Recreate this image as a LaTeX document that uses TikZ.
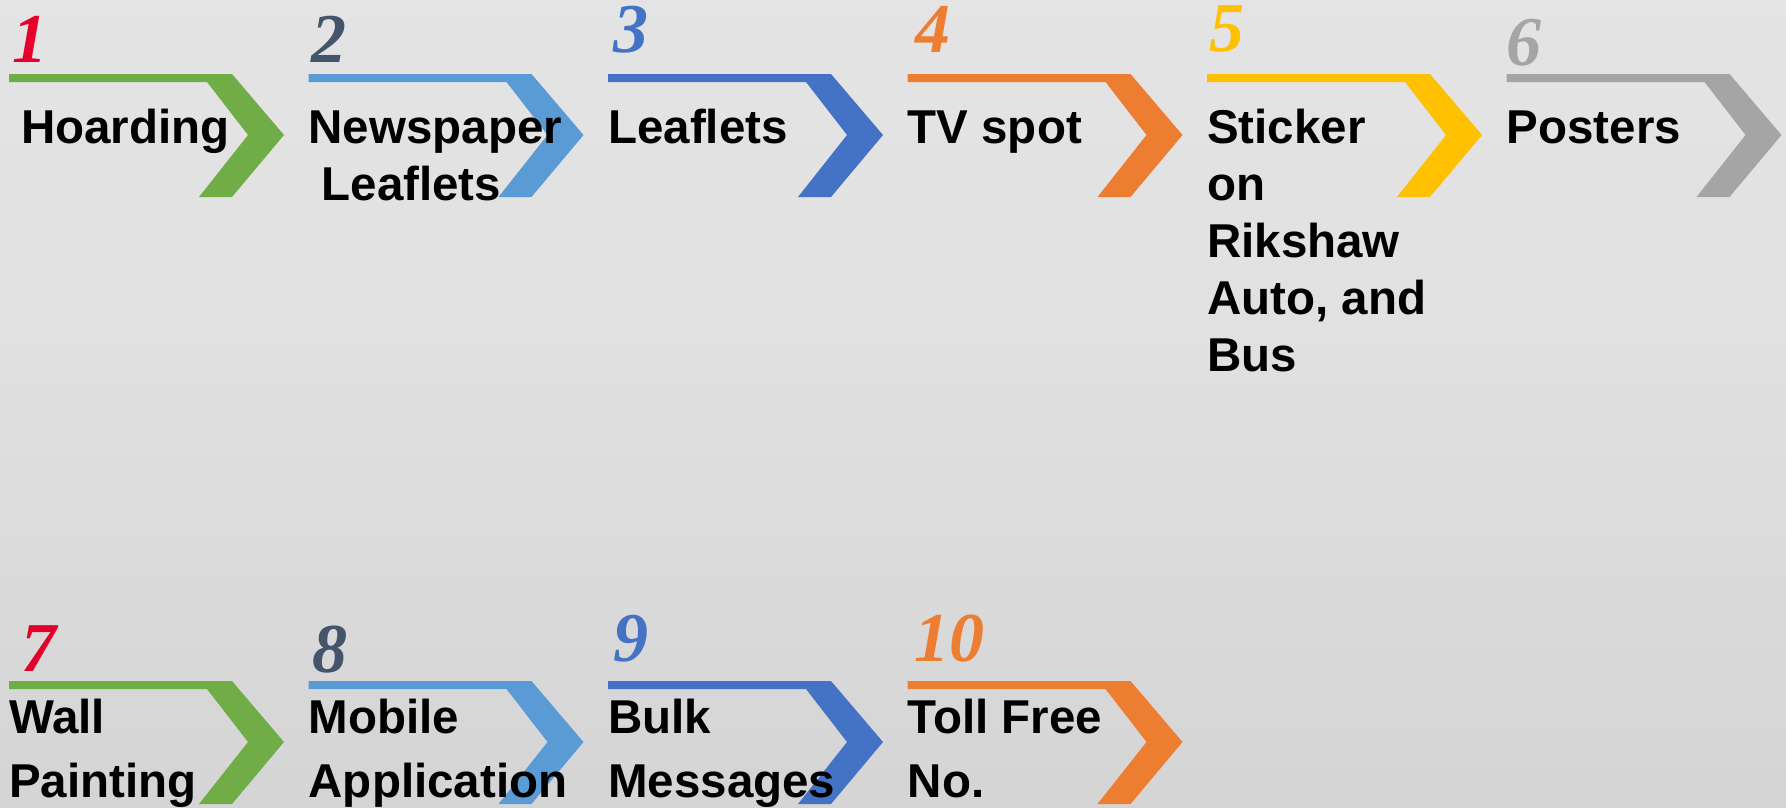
\documentclass[tikz,border=0pt]{standalone}
\usepackage{fontspec}
\newfontfamily\labelfont{Liberation Sans}
\newfontfamily\numfont{Liberation Serif}
\usetikzlibrary{positioning}

\definecolor{cgreen}{HTML}{70AD47}
\definecolor{clight}{HTML}{5B9BD5}
\definecolor{cblue}{HTML}{4472C4}
\definecolor{corange}{HTML}{ED7D31}
\definecolor{cgold}{HTML}{FFC000}
\definecolor{cgray}{HTML}{A5A5A5}
\definecolor{cred}{HTML}{E4002B}
\definecolor{cslate}{HTML}{44546A}
\definecolor{bgtop}{HTML}{E7E7E7}
\definecolor{bgmid}{HTML}{E1E1E1}
\definecolor{bgbot}{HTML}{CACACA}
\pgfdeclareverticalshading{bgshade}{100bp}{color(0bp)=(bgbot); color(55bp)=(bgmid); color(100bp)=(bgtop)}

\begin{document}
\begin{tikzpicture}[x=1pt,y=-1pt]
		\tikzstyle{num} = [anchor=base west,inner sep=0pt,font=\numfont\bfseries\itshape\fontsize{70}{70}\selectfont]
		\tikzstyle{item} = [anchor=base west,inner sep=0pt,align=left,font=\labelfont\bfseries\fontsize{47.5}{57}\selectfont]
		\tikzstyle{itemlow} = [item,font=\labelfont\bfseries\fontsize{47.5}{64.5}\selectfont]
		\tikzset{pics/chevron/.style={code={
			\fill[#1] (0,0) -- ++(223,0) -- ++(52,61) -- ++(-52,62) -- ++(-33,0) -- ++(49,-62) -- ++(-41,-53) -- ++(-198,0) -- cycle;
		}}}

		\useasboundingbox (0,0) rectangle (1786,807);
		\shade[shading=bgshade] (0,0) rectangle (1786,807);

		\pic (c1) at (9,74) {chevron=cgreen};
		\pic (c2) at (308.5,74) {chevron=clight};
		\pic (c3) at (608,74) {chevron=cblue};
		\pic (c4) at (907.5,74) {chevron=corange};
		\pic (c5) at (1207,74) {chevron=cgold};
		\pic (c6) at (1506.5,74) {chevron=cgray};

		\pic (c7) at (9,681) {chevron=cgreen};
		\pic (c8) at (308.5,681) {chevron=clight};
		\pic (c9) at (608,681) {chevron=cblue};
		\pic (c10) at (907.5,681) {chevron=corange};

		\node[num,text=cred] (n1) at (12,62) {1};
		\node[num,text=cslate] (n2) at (311,62) {2};
		\node[num,text=cblue] (n3) at (613,52) {3};
		\node[num,text=corange] (n4) at (915,52) {4};
		\node[num,text=cgold] (n5) at (1209,51) {5};
		\node[num,text=cgray] (n6) at (1506,65) {6};

		\node[num,text=cred] (n7) at (21,671) {7};
		\node[num,text=cslate] (n8) at (312,672) {8};
		\node[num,text=cblue] (n9) at (613,661) {9};
		\node[num,text=corange] (n10) at (914,661) {10};

		\node[item] (l1) at (21,143) {Hoarding};
		\node[item] (l2) at (308.5,200) {Newspaper\\\hspace*{13pt}Leaflets};
		\node[item] (l3) at (608,143) {Leaflets};
		\node[item] (l4) at (907.5,143) {TV spot};
		\node[item] (l5) at (1207,371) {Sticker\\on\\Rikshaw\\Auto, and\\Bus};
		\node[item] (l6) at (1506.5,143) {Posters};

		\node[itemlow] (l7) at (9,797.5) {Wall\\Painting};
		\node[itemlow] (l8) at (308.5,797.5) {Mobile\\Application};
		\node[itemlow] (l9) at (608,797.5) {Bulk\\Messages};
		\node[itemlow] (l10) at (907.5,797.5) {Toll Free\\No.};
	\end{tikzpicture}
\end{document}
